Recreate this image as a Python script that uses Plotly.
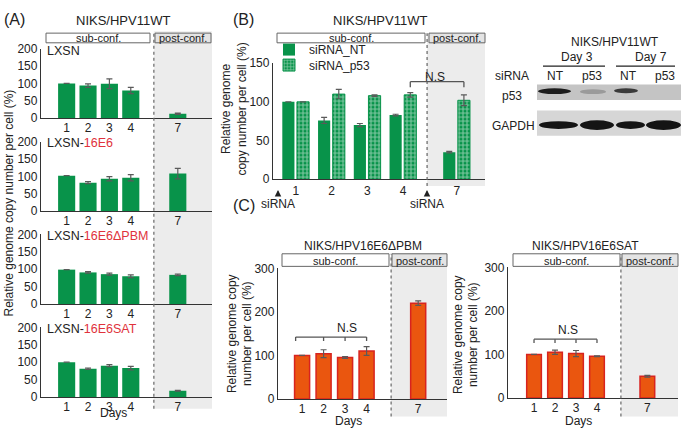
import plotly.graph_objects as go

W, H = 682, 435
def PX(p): return p / W
def PY(p): return 1 - p / H

# ---------------- data ----------------
day_labels = ["1", "2", "3", "4", "7"]
pos_a = [1, 2, 3, 4, 6.2]
pos_b = [1, 2, 3, 4, 5.5]
pos_c = [1, 2, 3, 4, 6.4]

a_names = ["LXSN", "LXSN-16E6", "LXSN-16E6ΔPBM", "LXSN-16E6SAT"]
a_lxsn = [100, 94, 99, 80, 13]
a_lxsn_err = [None, 5, 14, 9, 2]
a_16e6 = [102, 82, 93, 96, 108]
a_16e6_err = [None, 3, 6, 9, 15]
a_pbm = [99, 91, 86, 80, 84]
a_pbm_err = [None, 2, 3, 4, 2]
a_sat = [100, 81, 90, 83, 18]
a_sat_err = [None, 2, 3, 5, 1]

b_nt = [100, 76, 70, 83, 35]
b_nt_err = [None, 4, 2, 1, 1]
b_p53 = [100, 110, 108, 109, 102]
b_p53_err = [None, 6, 1, 3, 7]

c_pbm = [100, 104, 95, 110, 220]
c_pbm_err = [None, 9, 2, 10, 5]
c_sat = [100, 105, 102, 96, 50]
c_sat_err = [None, 5, 7, 1, 2]

GREEN = "#08934a"
ORANGE = "#ea560f"
RED = "#d8231f"
GREY_BG = "#ececec"
ERR = "#5a5a5a"
FONT = "Liberation Sans, Arial, sans-serif"

fig = go.Figure()

def err(arr):
    return dict(type="data", array=arr, visible=True, color=ERR, thickness=1.2, width=3)

# ---------- Panel A ----------
a_data = [(a_lxsn, a_lxsn_err), (a_16e6, a_16e6_err), (a_pbm, a_pbm_err), (a_sat, a_sat_err)]
for i, (v, e) in enumerate(a_data):
    suf = "" if i == 0 else str(i + 1)
    fig.add_trace(go.Bar(x=pos_a, y=v, width=0.8, name=a_names[i], marker=dict(color=GREEN, line=dict(width=0)),
                         error_y=err(e), xaxis="x" + suf, yaxis="y" + suf, showlegend=False))

# ---------- Panel B ----------
fig.add_trace(go.Bar(x=pos_b, y=b_nt, width=0.34, offset=-0.38, name="siRNA_NT",
                     marker=dict(color=GREEN, line=dict(width=0)),
                     error_y=err(b_nt_err), xaxis="x5", yaxis="y5", legend="legend"))
fig.add_trace(go.Bar(x=pos_b, y=b_p53, width=0.34, offset=0.03, name="siRNA_p53",
                     marker=dict(color=GREEN, line=dict(color=GREEN, width=1),
                                 pattern=dict(shape="+", fgcolor="white", bgcolor=GREEN,
                                              size=4, solidity=0.45)),
                     error_y=err(b_p53_err), xaxis="x5", yaxis="y5", legend="legend2"))

# ---------- Panel C ----------
fig.add_trace(go.Bar(x=pos_c, y=c_pbm, width=0.7, name="HPV16E6ΔPBM",
                     marker=dict(color=ORANGE, line=dict(color=RED, width=1.5)),
                     error_y=err(c_pbm_err), xaxis="x6", yaxis="y6", showlegend=False))
fig.add_trace(go.Bar(x=pos_c, y=c_sat, width=0.7, name="HPV16E6SAT",
                     marker=dict(color=ORANGE, line=dict(color=RED, width=1.5)),
                     error_y=err(c_sat_err), xaxis="x7", yaxis="y7", showlegend=False))

# ---------- axes ----------
def xax(dom, rng, anchor, tickvals, ticktext, size=12, standoff=0):
    return dict(domain=[PX(dom[0]), PX(dom[1])], range=rng, anchor=anchor, showline=True,
                linecolor="#333", linewidth=1.3, showgrid=False, zeroline=False,
                tickvals=tickvals, ticktext=ticktext, ticks="", tickfont=dict(size=size, color="#222"),
                ticklabelstandoff=standoff, fixedrange=True)

def yax(dom, rng, anchor, tickvals, size=12):
    return dict(domain=[PY(dom[1]), PY(dom[0])], range=rng, anchor=anchor, showline=True,
                linecolor="#333", linewidth=1.3, showgrid=False, zeroline=False,
                tickvals=tickvals, ticks="", tickfont=dict(size=size, color="#222"), fixedrange=True)

a_y_doms = [(43, 115), (139, 211), (235, 307), (331, 403)]
layout_axes = {}
for i, yd in enumerate(a_y_doms):
    suf = "" if i == 0 else str(i + 1)
    layout_axes["xaxis" + suf] = xax((41, 212), [-0.2, 7.8], "y" + suf, pos_a, day_labels, standoff=-2)
    layout_axes["yaxis" + suf] = yax(yd, [0, 200], "x" + suf, [0, 50, 100, 150, 200])
layout_axes["xaxis5"] = xax((273, 485), [0.36, 6.29], "y5", pos_b, day_labels)
layout_axes["yaxis5"] = yax((58, 178), [0, 150], "x5", [0, 50, 100, 150])
layout_axes["xaxis6"] = xax((278, 447), [-0.12, 7.74], "y6", pos_c, day_labels, standoff=-2)
layout_axes["yaxis6"] = yax((270, 405), [0, 300], "x6", [0, 100, 200, 300])
layout_axes["xaxis7"] = xax((508, 678), [-0.24, 7.86], "y7", pos_c, day_labels, standoff=-2)
layout_axes["yaxis7"] = yax((269, 404), [0, 300], "x7", [0, 100, 200, 300])

shapes = []
annotations = []

def ann(text, x, y, size=12, xanchor="center", yanchor="middle", color="#222", angle=0):
    annotations.append(dict(text=text, x=PX(x), y=PY(y), xref="paper", yref="paper", showarrow=False,
                            font=dict(size=size, color=color, family=FONT), xanchor=xanchor,
                            yanchor=yanchor, textangle=angle))

def prect(x0, y0, x1, y1, fill, line="#666", lw=1, layer="above"):
    shapes.append(dict(type="rect", xref="paper", yref="paper", x0=PX(x0), x1=PX(x1), y0=PY(y0), y1=PY(y1),
                       fillcolor=fill, line=dict(color=line, width=lw), layer=layer))

def pline(x0, y0, x1, y1, color="#222", lw=1.2, dash="solid"):
    shapes.append(dict(type="line", xref="paper", yref="paper", x0=PX(x0), x1=PX(x1), y0=PY(y0), y1=PY(y1),
                       line=dict(color=color, width=lw, dash=dash)))

def shade(xref, xa, xb, ytop, ybot):
    shapes.append(dict(type="rect", xref=xref, yref="paper", x0=xa, x1=xb, y0=PY(ybot), y1=PY(ytop),
                       fillcolor=GREY_BG, line=dict(width=0), layer="below"))
    shapes.append(dict(type="line", xref=xref, yref="paper", x0=xa, x1=xa, y0=PY(ybot), y1=PY(ytop),
                       line=dict(color="#666", width=1.2, dash="3px,3px"), layer="above"))

def conf_boxes(sub, post, y0, y1, size=11):
    prect(sub[0], y0, sub[1], y1, "white")
    prect(post[0], y0, post[1], y1, "#e4e4e4")
    ann("sub-conf.", (sub[0] + sub[1]) / 2, (y0 + y1) / 2 + 0.5, size)
    ann("post-conf.", (post[0] + post[1]) / 2, (y0 + y1) / 2 + 0.5, size)

def bracket(xref, yref, xs, ytop, ybot, color="#555"):
    shapes.append(dict(type="line", xref=xref, yref=yref, x0=xs[0], x1=xs[-1], y0=ytop, y1=ytop,
                       line=dict(color=color, width=1.3)))
    for xv in xs:
        shapes.append(dict(type="line", xref=xref, yref=yref, x0=xv, x1=xv, y0=ytop, y1=ybot,
                           line=dict(color=color, width=1.3)))

# Panel A decorations
shade("x", 5.08, 7.8, 25, 415)
conf_boxes((46, 150), (155, 211), 27, 37)
ann("(A)", 2, 13, 16, xanchor="left")
ann("NIKS/HPV11WT", 123, 14, 13)
red = "#e0323c"
a_label_html = ["LXSN",
                "LXSN-<span style='color:%s'>16E6</span>" % red,
                "LXSN-<span style='color:%s'>16E6ΔPBM</span>" % red,
                "LXSN-<span style='color:%s'>16E6SAT</span>" % red]
for lab, yd in zip(a_label_html, a_y_doms):
    ann(lab, 45, yd[0] + 2, 12.5, xanchor="left")
ann("Days", 113, 420, 12)
ann("Relative genome copy number per cell (%)", 9, 203, 12, angle=-90)

# Panel B decorations
shade("x5", 4.67, 6.29, 27, 185)
conf_boxes((277, 425), (429, 485), 27, 37)
ann("(B)", 231, 13, 16, xanchor="left")
ann("NIKS/HPV11WT", 380, 14, 13)
ann("Relative genome<br>copy number per cell (%)", 234, 105, 12, angle=-90)
bracket("x5", "y5", [pos_b[3] + 0.2, pos_b[4] + 0.2], 126, 119)
ann("N.S", 435, 72, 12)
for xa in (278, 427):
    annotations.append(dict(text="siRNA", x=PX(xa), y=PY(189), xref="paper", yref="paper",
                            showarrow=True, ax=0, ay=14, arrowhead=2, arrowsize=1, arrowwidth=1.3,
                            arrowcolor="#222", font=dict(size=12, color="#222", family=FONT)))

# Panel C decorations
ann("(C)", 231, 205, 16, xanchor="left")
shade("x6", 5.14, 7.74, 255, 423)
conf_boxes((282, 389), (392, 447), 255, 268)
ann("NIKS/HPV16E6ΔPBM", 363, 247, 12)
ann("Relative genome copy<br>number per cell (%)", 240, 338, 12, angle=-90)
ann("Days", 348, 428, 12)
bracket("x6", "y6", [0.7, 2, 3, 4], 142, 133)
ann("N.S", 347, 332, 12)

shade("x7", 5.14, 7.86, 255, 423)
conf_boxes((513, 620), (622, 678), 255, 268)
ann("NIKS/HPV16E6SAT", 585, 247, 12)
ann("Relative genome copy<br>number per cell (%)", 466, 338, 12, angle=-90)
ann("Days", 578, 428, 12)
bracket("x7", "y7", [1, 2, 3, 4], 135, 126)
ann("N.S", 568, 334, 12)

# Western blot (image-like inset)
ann("NIKS/HPV11WT", 615, 36, 12)
ann("Day 3", 577, 52, 12)
ann("Day 7", 651, 52, 12)
pline(543, 61, 605, 61)
pline(616, 61, 675, 61)
ann("siRNA", 512, 71, 12)
for x, t in zip((555, 592, 628, 665), ("NT", "p53", "NT", "p53")):
    ann(t, x, 71, 12)
ann("p53", 512, 92, 12)
ann("GAPDH", 513, 123, 12)
prect(537, 80, 681, 96, "#c4c4c4", line="#c4c4c4", lw=0)
prect(537, 107, 681, 133, "#d6d6d6", line="#d6d6d6", lw=0)

def band(x0, x1, ytop, ybot, color):
    shapes.append(dict(type="circle", xref="paper", yref="paper", x0=PX(x0), x1=PX(x1),
                       y0=PY(ybot), y1=PY(ytop), fillcolor=color, line=dict(width=0)))

# p53 bands
band(538, 571, 84, 90, "#1c1c1c")
band(580, 606, 85, 90, "#9a9a9a")
band(614, 638, 84, 89, "#3a3a3a")
# GAPDH bands
band(539, 578, 118, 126, "#141414")
band(580, 614, 117, 127, "#141414")
band(616, 645, 118, 126, "#141414")
band(646, 681, 117, 127, "#141414")

legend_common = dict(xanchor="left", yanchor="middle", bgcolor="rgba(0,0,0,0)",
                     font=dict(size=12, family=FONT, color="#222"), itemwidth=30)
fig.update_layout(
    width=W, height=H, autosize=False,
    margin=dict(l=0, r=0, t=0, b=0),
    paper_bgcolor="white", plot_bgcolor="rgba(0,0,0,0)",
    font=dict(family=FONT, color="#222", size=12),
    barmode="overlay",
    showlegend=True,
    legend=dict(x=PX(269), y=PY(44), **legend_common),
    legend2=dict(x=PX(269), y=PY(60), **legend_common),
    shapes=shapes, annotations=annotations,
    **layout_axes,
)

fig.write_html("out.html", config={"displayModeBar": False},
               post_script="document.body.style.margin='0px';")
